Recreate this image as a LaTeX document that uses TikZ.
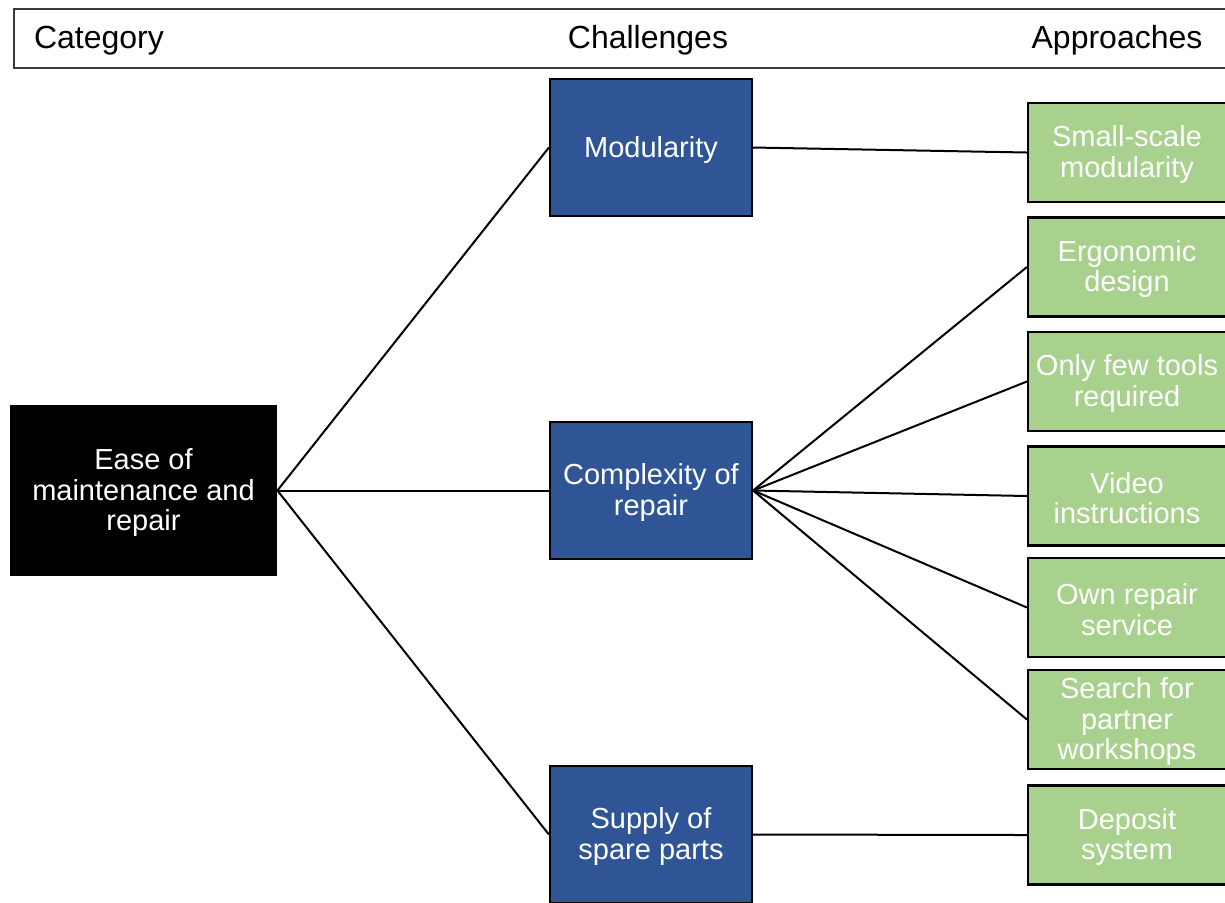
\documentclass[tikz,border=0pt]{standalone}
\usepackage{fontspec}
\setmainfont{Liberation Sans}
\definecolor{catblue}{HTML}{2F5597}
\definecolor{appgreen}{HTML}{A9D18E}
\definecolor{hdrline}{HTML}{3A3A3A}
\begin{document}
\begin{tikzpicture}[x=0.5pt,y=-0.5pt,
  hdrtext/.style={font=\fontsize{16}{19}\selectfont, text=black, inner sep=0pt, anchor=base},
  boxtext/.style={font=\fontsize{14.5}{15.25}\selectfont, text=white, align=center, inner sep=0pt, yshift=-1pt},
  catbox/.style={rectangle, fill=black, minimum width=133.5pt, minimum height=85.5pt, inner sep=0pt},
  chalbox/.style={rectangle, draw=black, line width=1.1pt, fill=catblue, minimum width=101pt, minimum height=68.5pt, inner sep=0pt},
  appbox/.style={rectangle, draw=black, line width=1.1pt, fill=appgreen, minimum width=99pt, minimum height=49.5pt, inner sep=0pt},
  link/.style={draw=black, line width=1pt}]
\clip (0,0) rectangle (1225,902);
\useasboundingbox (0,0) rectangle (1225,902);

% header bar
\draw[hdrline, line width=0.8pt] (14,9) rectangle (1232,68);
\node[hdrtext] (hcat) at (99,48) {Category};
\node[hdrtext] (hchal) at (648,48) {Challenges};
\node[hdrtext] (happ) at (1117,48) {Approaches};

% category
\node[catbox] (ease) at (143.5,490.5) {};
\node[boxtext] (easet) at (ease.center) {Ease of\\maintenance and\\repair};

% challenges
\node[chalbox] (mod) at (651,147.5) {};
\node[boxtext] (modt) at (mod.center) {Modularity};
\node[chalbox] (comp) at (651,490.5) {};
\node[boxtext] (compt) at (comp.center) {Complexity of\\repair};
\node[chalbox] (sup) at (651,834.5) {};
\node[boxtext] (supt) at (sup.center) {Supply of\\spare parts};

% approaches
\node[appbox] (small) at (1127,152.5) {};
\node[boxtext] (smallt) at (small.center) {Small-scale\\modularity};
\node[appbox] (ergo) at (1127,267) {};
\node[boxtext] (ergot) at (ergo.center) {Ergonomic\\design};
\node[appbox] (tools) at (1127,381.5) {};
\node[boxtext] (toolst) at (tools.center) {Only few tools\\required};
\node[appbox] (video) at (1127,496) {};
\node[boxtext] (videot) at (video.center) {Video\\instructions};
\node[appbox] (own) at (1127,607.5) {};
\node[boxtext] (ownt) at (own.center) {Own repair\\service};
\node[appbox] (search) at (1127,719.5) {};
\node[boxtext] (searcht) at (search.center) {Search for\\partner\\workshops};
\node[appbox] (dep) at (1127,835) {};
\node[boxtext] (dept) at (dep.center) {Deposit\\system};

% connectors
\draw[link] (ease.east) -- (mod.west);
\draw[link] (ease.east) -- (comp.west);
\draw[link] (ease.east) -- (sup.west);
\draw[link] (mod.east) -- (small.west);
\draw[link] (comp.east) -- (ergo.west);
\draw[link] (comp.east) -- (tools.west);
\draw[link] (comp.east) -- (video.west);
\draw[link] (comp.east) -- (own.west);
\draw[link] (comp.east) -- (search.west);
\draw[link] (sup.east) -- (dep.west);
\end{tikzpicture}
\end{document}
